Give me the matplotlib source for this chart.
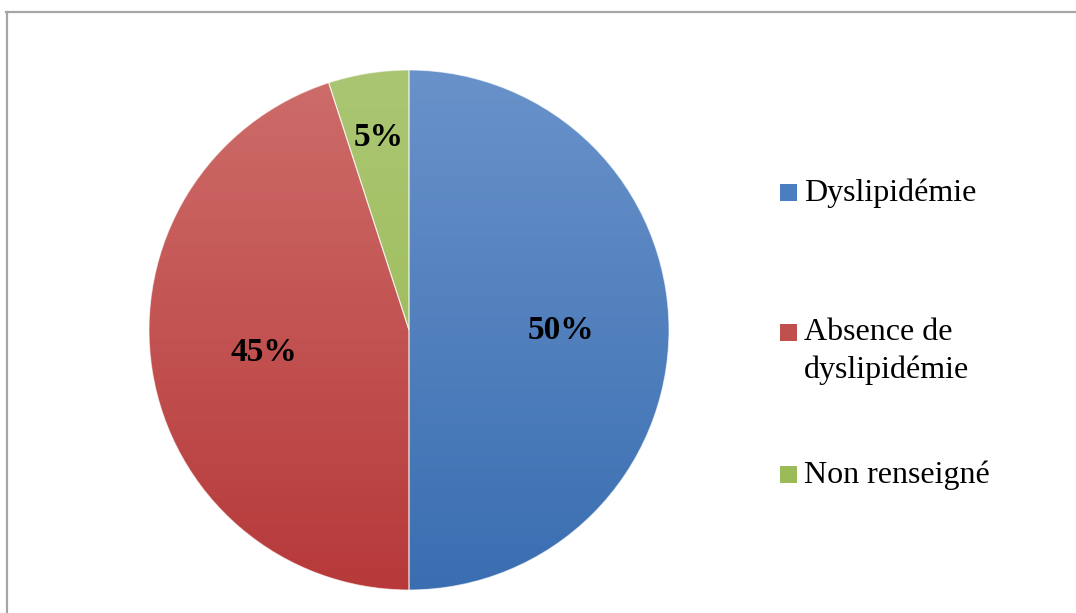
import matplotlib
matplotlib.use("Agg")
import matplotlib.pyplot as plt
import numpy as np
from matplotlib.lines import Line2D
from matplotlib.patches import Rectangle
from matplotlib.colors import to_rgb

plt.rcParams["font.family"] = ["Liberation Serif", "DejaVu Serif"]

# data
labels = ["Dyslipidémie", "Absence de\ndyslipidémie", "Non renseigné"]
values = [50, 45, 5]
pct_text = ["50%", "45%", "5%"]

# gradient colours (top, bottom) per slice
TOP = ["#6992ca", "#cd6d6a", "#abc673"]
BOTTOM = ["#3a6eb1", "#b7393a", "#96b84e"]
LEGEND_COL = ["#4a7ebf", "#c0504d", "#9bbb59"]

W, H = 1076, 613
fig = plt.figure(figsize=(W / 100, H / 100), dpi=100)

# pie centre (409, 330) px, radius 260 px
ax = fig.add_axes([149 / W, (H - 590) / H, 520 / W, 520 / H])

wedges, _ = ax.pie(values, startangle=90, counterclock=False, radius=1,
                   wedgeprops=dict(linewidth=0.8, edgecolor="white"))

# vertical gradient fill, clipped to each wedge
n = 256
for w, top, bot in zip(wedges, TOP, BOTTOM):
    t = np.linspace(0, 1, n)[:, None]
    c0, c1 = np.array(to_rgb(top)), np.array(to_rgb(bot))
    grad = (c0[None, :] * (1 - t) + c1[None, :] * t)[:, None, :]
    grad = np.repeat(grad, 2, axis=1)
    im = ax.imshow(grad, extent=[-1, 1, -1, 1], origin="upper",
                   aspect="auto", zorder=1, interpolation="bilinear")
    im.set_clip_path(w)
    w.set_facecolor("none")
    w.set_edgecolor((1, 1, 1, 0.6))
    w.set_zorder(2)
ax.set_xlim(-1, 1)
ax.set_ylim(-1, 1)
ax.set_aspect("equal")
ax.axis("off")

# percentage labels
angles = []
acc = 0
for v in values:
    mid = 90 - (acc + v / 2) / sum(values) * 360
    angles.append(np.deg2rad(mid))
    acc += v
dist = [0.585, 0.565, 0.75]
for a, d, s in zip(angles, dist, pct_text):
    ax.text(d * np.cos(a), d * np.sin(a), s, ha="center", va="center",
            fontsize=24, fontweight="bold", color="black", zorder=3)

# legend (manual, to match spacing)
leg_y = [192, 332, 474]
for y, lab, col in zip(leg_y, labels, LEGEND_COL):
    fig.patches.append(Rectangle((780 / W, 1 - (y + 9) / H), 17 / W, 17 / H,
                                 transform=fig.transFigure, facecolor=col,
                                 edgecolor="none"))
    fig.text(804 / W, 1 - (y - 14) / H, lab, ha="left", va="top",
             fontsize=23, linespacing=1.38, color="black")

# chart-area border (top and left edges)
border = "#a6a6a6"
fig.lines.append(Line2D([6 / W, 1], [1 - 11.5 / H, 1 - 11.5 / H],
                        transform=fig.transFigure, color=border, lw=1.6))
fig.lines.append(Line2D([6.5 / W, 6.5 / W], [0, 1 - 11.5 / H],
                        transform=fig.transFigure, color=border, lw=1.6))

fig.savefig("out.png", dpi=100)
